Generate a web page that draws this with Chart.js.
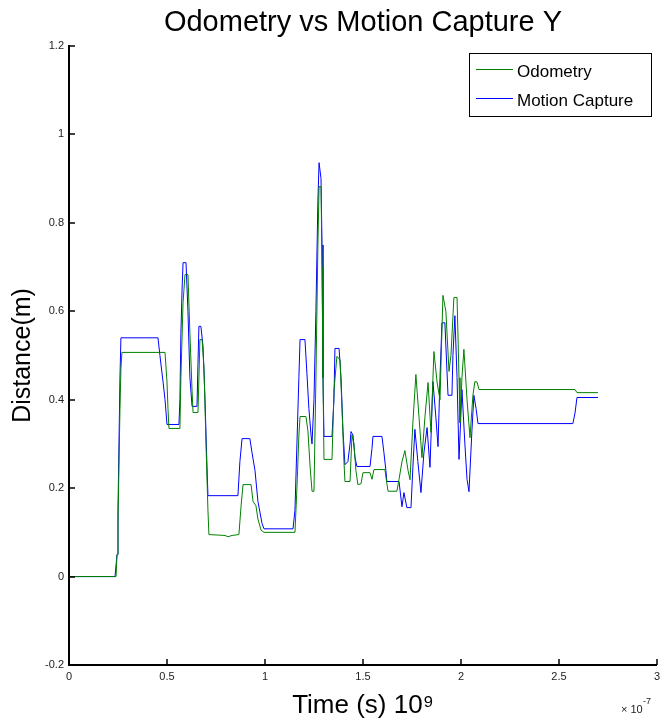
<!DOCTYPE html>
<html lang="en">
<head>
  <meta charset="UTF-8" />
  <title>Odometry vs Motion Capture Y</title>
  <script src="https://cdn.jsdelivr.net/npm/chart.js"></script>
</head>
<style>
    body {
      margin: 0;
      background: #fff;
    }
    #grafico {
      display: block;
    }
  </style>
<body>
  <canvas id="grafico" width="660" height="725"></canvas>
  <script>
    // time values are in units of 1e-7 (the axis shows "x 10^-7")
    const odomTime = [0, 0.24, 0.245, 0.25, 0.255, 0.26, 0.265, 0.27, 0.49, 0.5, 0.505, 0.51, 0.566, 0.571, 0.582, 0.592, 0.607, 0.617, 0.628, 0.633, 0.658, 0.663, 0.668, 0.679, 0.689, 0.699, 0.709, 0.714, 0.796, 0.811, 0.832, 0.867, 0.878, 0.888, 0.929, 0.939, 0.954, 0.964, 0.98, 0.995, 1.153, 1.163, 1.173, 1.179, 1.209, 1.219, 1.23, 1.24, 1.25, 1.26, 1.27, 1.276, 1.286, 1.291, 1.296, 1.301, 1.342, 1.352, 1.367, 1.383, 1.393, 1.403, 1.408, 1.434, 1.444, 1.454, 1.464, 1.474, 1.49, 1.5, 1.536, 1.546, 1.556, 1.612, 1.622, 1.628, 1.673, 1.684, 1.699, 1.714, 1.73, 1.74, 1.755, 1.77, 1.786, 1.801, 1.816, 1.832, 1.847, 1.862, 1.878, 1.893, 1.908, 1.923, 1.939, 1.949, 1.964, 1.98, 1.99, 1.995, 2.005, 2.015, 2.031, 2.046, 2.061, 2.071, 2.082, 2.092, 2.582, 2.592, 2.699];
    const odomDist = [0, 0, 0.05, 0.12, 0.25, 0.38, 0.47, 0.507, 0.507, 0.44, 0.38, 0.335, 0.335, 0.45, 0.62, 0.683, 0.683, 0.55, 0.42, 0.371, 0.371, 0.45, 0.536, 0.536, 0.47, 0.30, 0.15, 0.095, 0.093, 0.09, 0.093, 0.095, 0.16, 0.208, 0.208, 0.17, 0.16, 0.13, 0.105, 0.10, 0.10, 0.2, 0.32, 0.362, 0.362, 0.33, 0.25, 0.193, 0.193, 0.45, 0.75, 0.882, 0.882, 0.7, 0.45, 0.265, 0.265, 0.42, 0.498, 0.49, 0.38, 0.26, 0.215, 0.215, 0.32, 0.30, 0.24, 0.208, 0.21, 0.235, 0.235, 0.22, 0.242, 0.242, 0.21, 0.193, 0.193, 0.22, 0.26, 0.285, 0.24, 0.219, 0.35, 0.457, 0.36, 0.269, 0.36, 0.439, 0.326, 0.509, 0.44, 0.40, 0.636, 0.60, 0.464, 0.50, 0.631, 0.631, 0.45, 0.348, 0.45, 0.514, 0.40, 0.314, 0.41, 0.441, 0.44, 0.423, 0.423, 0.416, 0.416];

    const mocapTime = [0, 0.235, 0.245, 0.25, 0.255, 0.26, 0.265, 0.454, 0.464, 0.48, 0.49, 0.5, 0.561, 0.566, 0.571, 0.577, 0.582, 0.597, 0.607, 0.617, 0.628, 0.653, 0.658, 0.663, 0.673, 0.684, 0.694, 0.704, 0.709, 0.862, 0.872, 0.883, 0.923, 0.934, 0.949, 0.964, 0.985, 0.995, 1.143, 1.153, 1.163, 1.173, 1.179, 1.204, 1.214, 1.224, 1.235, 1.24, 1.25, 1.26, 1.27, 1.276, 1.286, 1.291, 1.296, 1.301, 1.342, 1.352, 1.357, 1.378, 1.388, 1.398, 1.408, 1.423, 1.434, 1.439, 1.449, 1.459, 1.469, 1.536, 1.546, 1.551, 1.597, 1.607, 1.617, 1.622, 1.684, 1.699, 1.709, 1.724, 1.745, 1.755, 1.765, 1.78, 1.796, 1.811, 1.827, 1.842, 1.857, 1.872, 1.883, 1.893, 1.903, 1.918, 1.934, 1.954, 1.959, 1.969, 1.98, 1.99, 2.005, 2.02, 2.031, 2.041, 2.056, 2.066, 2.077, 2.087, 2.571, 2.582, 2.592, 2.699];
    const mocapDist = [0, 0, 0.05, 0.15, 0.30, 0.45, 0.54, 0.54, 0.50, 0.44, 0.40, 0.344, 0.344, 0.40, 0.55, 0.65, 0.71, 0.71, 0.60, 0.45, 0.385, 0.385, 0.48, 0.566, 0.566, 0.52, 0.40, 0.25, 0.183, 0.183, 0.26, 0.312, 0.312, 0.28, 0.24, 0.17, 0.12, 0.108, 0.108, 0.15, 0.3, 0.45, 0.536, 0.536, 0.46, 0.38, 0.32, 0.30, 0.40, 0.60, 0.85, 0.936, 0.90, 0.75, 0.45, 0.317, 0.317, 0.40, 0.516, 0.516, 0.45, 0.33, 0.253, 0.26, 0.30, 0.328, 0.32, 0.27, 0.249, 0.249, 0.29, 0.317, 0.317, 0.28, 0.24, 0.215, 0.215, 0.158, 0.19, 0.156, 0.156, 0.25, 0.333, 0.26, 0.19, 0.28, 0.337, 0.247, 0.441, 0.36, 0.294, 0.45, 0.574, 0.574, 0.41, 0.41, 0.50, 0.59, 0.45, 0.265, 0.423, 0.30, 0.22, 0.192, 0.33, 0.41, 0.38, 0.346, 0.346, 0.37, 0.405, 0.405];

    const seriesNames = ['Odometry', 'Motion Capture'];
    const seriesColors = ['#008000', '#0000ff'];

    const fonte = 'Liberation Sans, Arial, Helvetica, sans-serif';

    function pares(xs, ys) {
      return xs.map((x, i) => ({ x: x, y: ys[i] }));
    }

    // inward ticks, exponent label and the boxed legend
    const extras = {
      id: 'extras',
      afterDraw(chart) {
        const { ctx, chartArea: a, scales: { x, y } } = chart;
        ctx.save();
        ctx.strokeStyle = '#000';
        ctx.lineWidth = 1.5;
        x.ticks.forEach(t => {
          const px = Math.round(x.getPixelForValue(t.value));
          ctx.beginPath();
          ctx.moveTo(px, a.bottom);
          ctx.lineTo(px, a.bottom - 6);
          ctx.stroke();
        });
        y.ticks.forEach(t => {
          const py = Math.round(y.getPixelForValue(t.value));
          ctx.beginPath();
          ctx.moveTo(a.left, py);
          ctx.lineTo(a.left + 6, py);
          ctx.stroke();
        });

        // x 10^-7
        ctx.fillStyle = '#222';
        ctx.font = '11px ' + fonte;
        ctx.textBaseline = 'alphabetic';
        ctx.textAlign = 'left';
        ctx.fillText('\u00d7 10', 621, 713);
        ctx.font = '9px ' + fonte;
        ctx.fillText('-7', 643, 704);

        // legend
        const lx = 469, ly = 53, lw = 182, lh = 63;
        ctx.fillStyle = '#fff';
        ctx.fillRect(lx, ly, lw, lh);
        ctx.lineWidth = 1;
        ctx.strokeStyle = '#000';
        ctx.strokeRect(lx + 0.5, ly + 0.5, lw, lh);
        ctx.font = '17px ' + fonte;
        ctx.textBaseline = 'middle';
        const rows = [71, 100];
        chart.data.datasets.forEach((ds, i) => {
          ctx.strokeStyle = ds.borderColor;
          ctx.beginPath();
          ctx.moveTo(476, rows[i] - 1.5);
          ctx.lineTo(513, rows[i] - 1.5);
          ctx.stroke();
          ctx.fillStyle = '#000';
          ctx.fillText(ds.label, 517, rows[i] + 1);
        });
        ctx.restore();
      }
    };

    const ctx = document.getElementById('grafico').getContext('2d');
    new Chart(ctx, {
      type: 'line',
      data: {
        datasets: [
          {
            label: seriesNames[0],
            data: pares(odomTime, odomDist),
            borderColor: seriesColors[0],
            borderWidth: 1,
            pointRadius: 0,
            tension: 0
          },
          {
            label: seriesNames[1],
            data: pares(mocapTime, mocapDist),
            borderColor: seriesColors[1],
            borderWidth: 1,
            pointRadius: 0,
            tension: 0
          }
        ]
      },
      options: {
        responsive: false,
        animation: false,
        layout: { padding: { left: 0, right: 3, top: 0, bottom: 0 } },
        plugins: {
          legend: { display: false },
          tooltip: { enabled: false },
          title: {
            display: true,
            fullSize: false,
            text: 'Odometry vs Motion Capture Y',
            color: '#000',
            font: { family: fonte, size: 29, weight: 'normal', lineHeight: 1.2 },
            padding: { top: 6, bottom: 5.2 }
          }
        },
        scales: {
          x: {
            type: 'linear',
            min: 0,
            max: 3,
            ticks: {
              stepSize: 0.5,
              color: '#222',
              font: { family: fonte, size: 11 },
              padding: 0,
              maxRotation: 0,
              callback: v => String(Number(v.toFixed(1)))
            },
            grid: { drawOnChartArea: false, drawTicks: true, tickLength: 5, tickColor: 'rgba(0,0,0,0)' },
            border: { display: true, color: '#000', width: 2 },
            title: {
              display: true,
              text: 'Time (s) 10\u2079',
              color: '#000',
              font: { family: fonte, size: 26, lineHeight: 1.2 },
              padding: { top: 0, bottom: 4 }
            },
            afterFit: s => { s.height = 60; }
          },
          y: {
            min: -0.2,
            max: 1.2,
            ticks: {
              stepSize: 0.2,
              color: '#222',
              font: { family: fonte, size: 11 },
              padding: 5,
              callback: v => String(Number(v.toFixed(1)))
            },
            grid: { drawOnChartArea: false, drawTicks: false },
            border: { display: true, color: '#000', width: 2 },
            title: {
              display: true,
              text: 'Distance(m)',
              color: '#000',
              font: { family: fonte, size: 25, lineHeight: 1.2 },
              padding: { top: 8, bottom: 0 }
            },
            afterFit: s => { s.width = 69; }
          }
        }
      },
      plugins: [extras]
    });
  </script>
</body>
</html>
